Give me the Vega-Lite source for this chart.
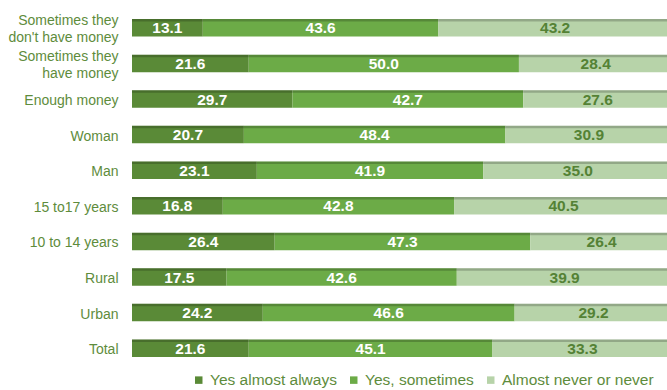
{
  "$schema": "https://vega.github.io/schema/vega-lite/v6.json",
  "width": 535,
  "height": 356,
  "autosize": {"type": "none"},
  "padding": {"left": 132, "top": 10, "right": 0, "bottom": 24},
  "background": "white",
  "config": {"view": {"stroke": null}, "font": "Liberation Sans, Arial, sans-serif"},
  "data": {"values": [
    {"category": "Sometimes they|don't have money", "response": "Yes almost always", "ord": 1, "value": 13.1},
    {"category": "Sometimes they|don't have money", "response": "Yes, sometimes", "ord": 2, "value": 43.6},
    {"category": "Sometimes they|don't have money", "response": "Almost never or never", "ord": 3, "value": 43.2},
    {"category": "Sometimes they|have money", "response": "Yes almost always", "ord": 1, "value": 21.6},
    {"category": "Sometimes they|have money", "response": "Yes, sometimes", "ord": 2, "value": 50.0},
    {"category": "Sometimes they|have money", "response": "Almost never or never", "ord": 3, "value": 28.4},
    {"category": "Enough money", "response": "Yes almost always", "ord": 1, "value": 29.7},
    {"category": "Enough money", "response": "Yes, sometimes", "ord": 2, "value": 42.7},
    {"category": "Enough money", "response": "Almost never or never", "ord": 3, "value": 27.6},
    {"category": "Woman", "response": "Yes almost always", "ord": 1, "value": 20.7},
    {"category": "Woman", "response": "Yes, sometimes", "ord": 2, "value": 48.4},
    {"category": "Woman", "response": "Almost never or never", "ord": 3, "value": 30.9},
    {"category": "Man", "response": "Yes almost always", "ord": 1, "value": 23.1},
    {"category": "Man", "response": "Yes, sometimes", "ord": 2, "value": 41.9},
    {"category": "Man", "response": "Almost never or never", "ord": 3, "value": 35.0},
    {"category": "15 to17 years", "response": "Yes almost always", "ord": 1, "value": 16.8},
    {"category": "15 to17 years", "response": "Yes, sometimes", "ord": 2, "value": 42.8},
    {"category": "15 to17 years", "response": "Almost never or never", "ord": 3, "value": 40.5},
    {"category": "10 to 14 years", "response": "Yes almost always", "ord": 1, "value": 26.4},
    {"category": "10 to 14 years", "response": "Yes, sometimes", "ord": 2, "value": 47.3},
    {"category": "10 to 14 years", "response": "Almost never or never", "ord": 3, "value": 26.4},
    {"category": "Rural", "response": "Yes almost always", "ord": 1, "value": 17.5},
    {"category": "Rural", "response": "Yes, sometimes", "ord": 2, "value": 42.6},
    {"category": "Rural", "response": "Almost never or never", "ord": 3, "value": 39.9},
    {"category": "Urban", "response": "Yes almost always", "ord": 1, "value": 24.2},
    {"category": "Urban", "response": "Yes, sometimes", "ord": 2, "value": 46.6},
    {"category": "Urban", "response": "Almost never or never", "ord": 3, "value": 29.2},
    {"category": "Total", "response": "Yes almost always", "ord": 1, "value": 21.6},
    {"category": "Total", "response": "Yes, sometimes", "ord": 2, "value": 45.1},
    {"category": "Total", "response": "Almost never or never", "ord": 3, "value": 33.3}
  ]},
  "transform": [
    {"stack": "value", "groupby": ["category"], "sort": [{"field": "ord", "order": "ascending"}], "as": ["v0", "v1"]},
    {"calculate": "(datum.v0 + datum.v1) / 2", "as": "mid"}
  ],
  "encoding": {
    "y": {
      "field": "category",
      "type": "nominal",
      "sort": null,
      "scale": {"paddingInner": 0.508, "paddingOuter": 0.254},
      "axis": {
        "title": null,
        "domain": false,
        "ticks": false,
        "labelPadding": 14,
        "labelFont": "Liberation Sans, Arial, sans-serif",
        "labelFontSize": 14,
        "labelColor": "#5e8c3c",
        "labelLineHeight": 17,
        "labelExpr": "split(datum.label, '|')",
        "labelOffset": {"condition": {"test": "indexof(datum.value, '|') >= 0", "value": -6.5}, "value": 2}
      }
    }
  },
  "layer": [
    {
      "mark": {"type": "bar", "clip": true},
      "encoding": {
        "x": {"field": "v0", "type": "quantitative", "scale": {"domain": [0, 99], "nice": false}, "axis": null},
        "x2": {"field": "v1"},
        "color": {
          "field": "response",
          "type": "nominal",
          "sort": ["Yes almost always", "Yes, sometimes", "Almost never or never"],
          "scale": {"domain": ["Yes almost always", "Yes, sometimes", "Almost never or never"], "range": ["#5a8a37", "#6cab47", "#b7d3a9"]},
          "legend": {
            "title": null,
            "orient": "none",
            "legendX": 59,
            "legendY": 362,
            "direction": "horizontal",
            "symbolType": "square",
            "symbolSize": 56,
            "symbolStrokeWidth": 0,
            "labelFont": "Liberation Sans, Arial, sans-serif",
            "labelFontSize": 15.5,
            "labelColor": "#5e8c3c",
            "labelOffset": 3.5,
            "columnPadding": 9
          }
        }
      }
    },
    {
      "mark": {"type": "bar", "clip": true, "height": 2.5, "yOffset": -7.5, "color": "#000000", "opacity": 0.2},
      "encoding": {
        "x": {"field": "v0", "type": "quantitative"},
        "x2": {"field": "v1"}
      }
    },
    {
      "mark": {"type": "text", "font": "Liberation Sans, Arial, sans-serif", "fontWeight": "bold", "fontSize": 15.5, "baseline": "middle", "dy": 0.5},
      "encoding": {
        "x": {"field": "mid", "type": "quantitative"},
        "text": {"field": "value", "type": "quantitative", "format": ".1f"},
        "color": {"condition": {"test": "datum.ord == 3", "value": "#548235"}, "value": "white"}
      }
    }
  ]
}
